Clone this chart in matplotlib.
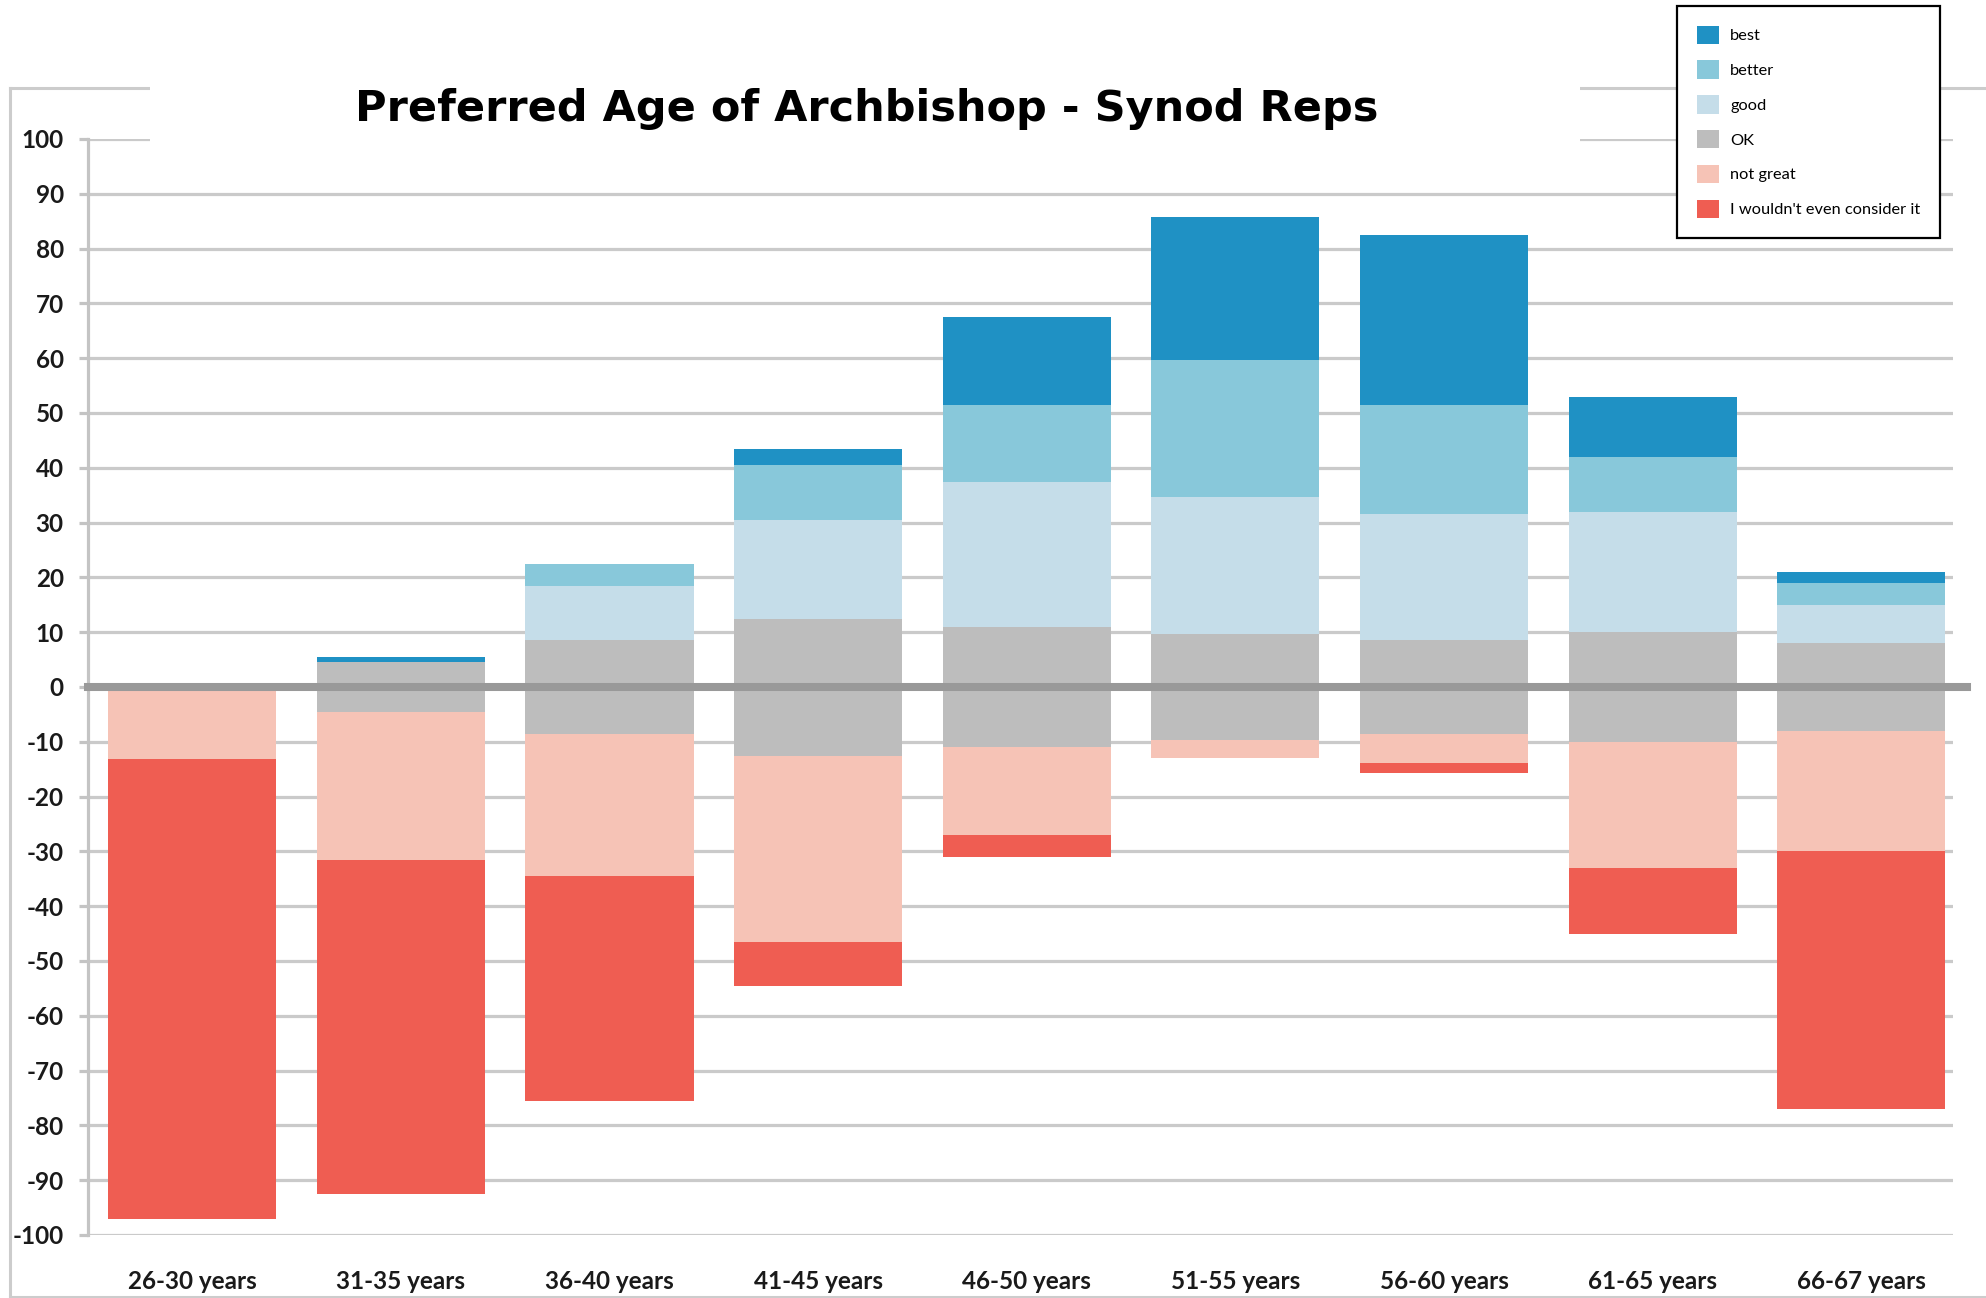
import matplotlib
matplotlib.use("Agg")
import matplotlib.pyplot as plt
from matplotlib.patches import Rectangle, Patch
from matplotlib.lines import Line2D
import numpy as np

categories = ['26-30 years', '31-35 years', '36-40 years', '41-45 years', '46-50 years',
              '51-55 years', '56-60 years', '61-65 years', '66-67 years']
best      = [0, 1, 0, 3, 16, 26, 31, 11, 2]
better    = [0, 0, 4, 10, 14, 25, 20, 10, 4]
good      = [0, 0, 10, 18, 26.5, 25, 23, 22, 7]
ok        = [1.6, 9, 17, 25, 22, 19.5, 17, 20, 16]
not_great = [12.3, 27, 26, 34, 16, 3.2, 5.4, 23, 22]
wouldnt   = [84, 61, 41, 8, 4, 0, 1.8, 12, 47]
yticks = list(range(-100, 101, 10))
title = 'Preferred Age of Archbishop - Synod Reps'
labels = ['best', 'better', 'good', 'OK', 'not great', "I wouldn't even consider it"]
colors = ['#1f91c4', '#88c8da', '#c5dde9', '#bdbdbd', '#f6c3b6', '#ef5d52']

W, H = 1986, 1298
fig = plt.figure(figsize=(W / 100, H / 100), dpi=100)
fig.patch.set_facecolor('white')

def fx(px):
    return px / W

def fy(py):
    return 1 - py / H

ax_l, ax_r, ax_t, ax_b = 88, 1953, 139, 1235
ax = fig.add_axes([fx(ax_l), fy(ax_b), fx(ax_r - ax_l), (ax_b - ax_t) / H])
ax.patch.set_alpha(0)

x = np.arange(len(categories))
bw = 0.806
ok_a = np.array(ok, dtype=float)
good_a = np.array(good, dtype=float)
better_a = np.array(better, dtype=float)
best_a = np.array(best, dtype=float)
ng_a = np.array(not_great, dtype=float)
wo_a = np.array(wouldnt, dtype=float)

ax.bar(x, ok_a, bw, bottom=-ok_a / 2, color=colors[3], zorder=2)
ax.bar(x, good_a, bw, bottom=ok_a / 2, color=colors[2], zorder=2)
ax.bar(x, better_a, bw, bottom=ok_a / 2 + good_a, color=colors[1], zorder=2)
ax.bar(x, best_a, bw, bottom=ok_a / 2 + good_a + better_a, color=colors[0], zorder=2)
ax.bar(x, -ng_a, bw, bottom=-ok_a / 2, color=colors[4], zorder=2)
ax.bar(x, -wo_a, bw, bottom=-ok_a / 2 - ng_a, color=colors[5], zorder=2)

ax.set_xlim(-0.5, 8.44)
ax.set_ylim(-100, 100)
ax.set_yticks(yticks)
ax.set_yticklabels([str(v) for v in yticks])
ax.set_xticks(x)
ax.set_xticklabels(categories)

ax.yaxis.grid(True, color='#cacaca', linewidth=2.3, zorder=1)
ax.set_axisbelow(True)
for s in ['top', 'right', 'bottom']:
    ax.spines[s].set_visible(False)
ax.spines['left'].set_color('#c4c4c4')
ax.spines['left'].set_linewidth(2.3)
ax.tick_params(axis='y', direction='out', length=6.5, width=2.3, color='#c4c4c4', pad=11)
ax.tick_params(axis='x', length=0, pad=25)

for t in ax.get_yticklabels() + ax.get_xticklabels():
    t.set_fontfamily(['Lato', 'DejaVu Sans'])
    t.set_fontweight('bold')
    t.set_fontsize(17.5)
    t.set_color('#1a1a1a')

# zero line
ax.axhline(0, xmin=0, xmax=(1967 - ax_l) / (ax_r - ax_l), color='#999999', linewidth=5.8,
           zorder=5, clip_on=False)

# outer frame
frame_c = '#cccccc'
fig.lines.append(Line2D([fx(10), fx(10)], [fy(88), fy(1297)], transform=fig.transFigure,
                        color=frame_c, linewidth=2.2, zorder=1))
fig.lines.append(Line2D([fx(10), fx(W)], [fy(88), fy(88)], transform=fig.transFigure,
                        color=frame_c, linewidth=2.2, zorder=1))
fig.lines.append(Line2D([fx(10), fx(W)], [fy(1297), fy(1297)], transform=fig.transFigure,
                        color=frame_c, linewidth=2.2, zorder=1))

# white title panel
fig.patches.append(Rectangle((fx(150), fy(165)), fx(1580 - 150), (165 - 55) / H,
                             transform=fig.transFigure, facecolor='white', edgecolor='none',
                             zorder=3))
fig.text(fx(867), fy(109), title, ha='center', va='center', fontsize=31,
         fontweight='bold', family=['DejaVu Sans'], color='black', zorder=4)

handles = [Patch(facecolor=c, edgecolor='none') for c in colors]
leg = fig.legend(handles, labels, loc='upper left', bbox_to_anchor=(fx(1677), fy(6)),
                 frameon=True, fancybox=False, edgecolor='black', framealpha=1,
                 prop=dict(family=['Lato', 'DejaVu Sans'], size=11.8),
                 handlelength=1.35, handleheight=1.35, labelspacing=1.0, handletextpad=0.7,
                 borderpad=1.2, borderaxespad=0)
leg.get_frame().set_linewidth(1.6)
leg.set_zorder(10)

fig.savefig('out.png', dpi=100, facecolor='white')
